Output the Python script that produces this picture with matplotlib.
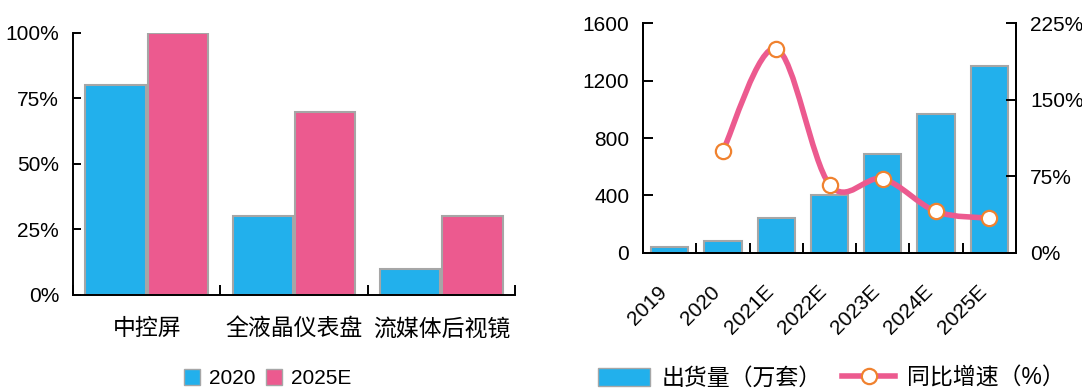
"""Two-panel chart: display penetration by type, and shipments with YoY growth."""

import matplotlib
matplotlib.use("Agg")
import matplotlib.pyplot as plt
import numpy as np
from matplotlib.path import Path
from matplotlib.patches import PathPatch, Patch
from matplotlib.lines import Line2D

plt.rcParams["font.family"] = ["Liberation Sans", "Noto Sans CJK SC", "DejaVu Sans"]

# left panel data
types = ["中控屏", "全液晶仪表盘", "流媒体后视镜"]
share_2020 = [80, 30, 10]
share_2025 = [100, 70, 30]
share_ticks = [0, 25, 50, 75, 100]

# right panel data
years = ["2019", "2020", "2021E", "2022E", "2023E", "2024E", "2025E"]
shipments = [40, 80, 240, 400, 690, 970, 1300]
growth_years = years[1:]
growth = [100, 200, 67, 72.5, 40.6, 34]
ship_ticks = [0, 400, 800, 1200, 1600]
growth_ticks = [0, 75, 150, 225]

BLUE = "#22B0EC"; PINK = "#EC5A8F"; ORANGE = "#F0822F"; EDGE = "#A6A6A6"
FS = 15; FS_CN = 16.5

def smooth_path(x, y):
    pts = np.column_stack([x, y]).astype(float); n = len(pts)
    verts = [pts[0]]; codes = [Path.MOVETO]
    for i in range(n - 1):
        p0 = pts[i - 1] if i > 0 else pts[i]; p1 = pts[i]; p2 = pts[i + 1]
        p3 = pts[i + 2] if i + 2 < n else pts[i + 1]
        verts += [p1 + (p2 - p0) / 6, p2 - (p3 - p1) / 6, p2]; codes += [Path.CURVE4] * 3
    return Path(verts, codes)

def style_spines(ax, sides):
    for s in ax.spines:
        ax.spines[s].set_visible(s in sides); ax.spines[s].set_linewidth(1.4); ax.spines[s].set_color("black")

fig = plt.figure(figsize=(10.82, 3.9), dpi=100)

# ---- left panel
ax = fig.add_axes([0.0675, 0.2436, 0.4085, 0.6718])
x = np.arange(len(types)); w = 0.41; off = 0.212
ax.bar(x - off, share_2020, w, color=BLUE, edgecolor=EDGE, linewidth=1.5, label="2020")
ax.bar(x + off, share_2025, w, color=PINK, edgecolor=EDGE, linewidth=1.5, label="2025E")
ax.set_xlim(-0.5, len(types) - 0.5); ax.set_ylim(0, 100)
style_spines(ax, ["left", "bottom"])
ax.set_yticks(share_ticks, [f"{v}%" for v in share_ticks])
ax.set_xticks(np.arange(len(types) + 1) - 0.5, [])
ax.set_xticks(x, types, minor=True)
ax.tick_params(axis="y", direction="in", length=6, width=1.4, pad=10, labelsize=FS)
ax.tick_params(axis="x", which="major", direction="in", length=7, width=1.4)
ax.tick_params(axis="x", which="minor", length=0, pad=16, labelsize=FS_CN)
fig.legend(handles=[Patch(facecolor=BLUE, edgecolor=EDGE, label="2020"), Patch(facecolor=PINK, edgecolor=EDGE, label="2025E")],
           loc="center", bbox_to_anchor=(0.247, 0.03), ncol=2, frameon=False, fontsize=FS,
           handlelength=0.8, handleheight=0.8, handletextpad=0.4, columnspacing=0.5)

# ---- right panel
ax1 = fig.add_axes([0.5943, 0.3513, 0.3447, 0.5897])
xr = np.arange(len(years))
ax1.bar(xr, shipments, 0.7, color=BLUE, edgecolor=EDGE, linewidth=1.5)
ax1.set_xlim(-0.5, len(years) - 0.5); ax1.set_ylim(0, 1600)
ax1.set_yticks(ship_ticks, [str(v) for v in ship_ticks])
ax1.set_xticks(np.arange(len(years) + 1) - 0.5, [])
for i, yr in enumerate(years):
    ax1.annotate(yr, xy=(i, 0), xycoords=("data", "axes fraction"), xytext=(-9, -21), textcoords="offset points",
                 rotation=45, ha="right", va="top", rotation_mode="anchor", fontsize=FS)
ax1.tick_params(axis="y", direction="in", length=7, width=1.4, pad=10, labelsize=FS)
ax1.tick_params(axis="x", which="major", direction="in", length=7, width=1.4)

ax2 = ax1.twinx()
ax2.set_ylim(0, 225)
ax2.set_yticks(growth_ticks, [f"{v}%" for v in growth_ticks])
ax2.tick_params(axis="y", direction="in", length=7, width=1.4, pad=10, labelsize=FS)
style_spines(ax1, ["left", "bottom", "right"]); style_spines(ax2, ["left", "bottom", "right"])
gx = xr[1:]
ax2.add_patch(PathPatch(smooth_path(gx, growth), facecolor="none", edgecolor=PINK, linewidth=4, capstyle="round", zorder=3))
ax2.plot(gx, growth, "o", ms=11, mfc="white", mec=ORANGE, mew=1.6, zorder=4)

fig.legend(handles=[Patch(facecolor=BLUE, edgecolor=EDGE, label="出货量（万套）"),
                    Line2D([], [], color=PINK, lw=4, marker="o", ms=11, mfc="white", mec=ORANGE, mew=1.6, label="同比增速（%）")],
           loc="center", bbox_to_anchor=(0.768, 0.03), ncol=2, frameon=False, fontsize=FS_CN, numpoints=1,
           handlelength=2.3, handleheight=0.8, handletextpad=0.5, columnspacing=0.9)

fig.savefig("out.png", dpi=100)
